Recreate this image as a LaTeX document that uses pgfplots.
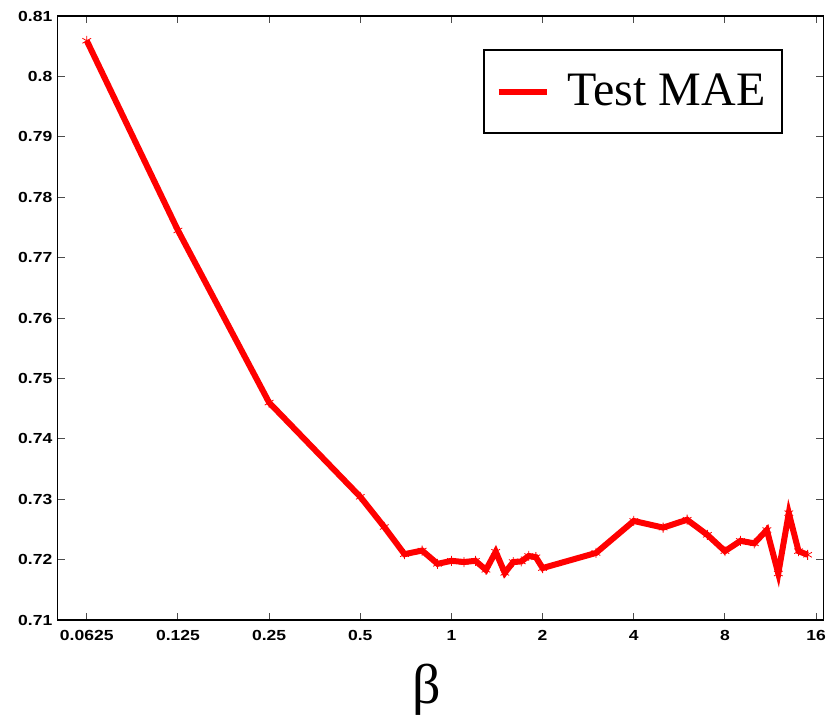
\documentclass[border=0pt]{standalone}
\usepackage{fontspec}
\usepackage{pgfplots}
\pgfplotsset{compat=1.18}
\setmainfont{Liberation Serif}
\newfontfamily\tickfont[FakeStretch=1.2]{Liberation Sans}
\definecolor{pure red}{RGB}{255,0,0}
\begin{document}
\begin{tikzpicture}
\begin{axis}[
  scale only axis,
  width=382.8pt, height=302pt,
  xmode=log, log basis x=2,
  xmin=0.0501, xmax=16.9,
  ymin=0.71, ymax=0.81,
  xtick={0.0625,0.125,0.25,0.5,1,2,4,8,16},
  xticklabels={0.0625,0.125,0.25,0.5,1,2,4,8,16},
  ytick={0.71,0.72,0.73,0.74,0.75,0.76,0.77,0.78,0.79,0.8,0.81},
  yticklabels={0.71,0.72,0.73,0.74,0.75,0.76,0.77,0.78,0.79,0.8,0.81},
  minor tick num=0,
  tick align=inside,
  major tick length=3.5pt,
  tick style={black!70, line width=0.5pt},
  axis line style={black, line width=0.8pt},
  ticklabel style={font=\tickfont\bfseries\fontsize{7.3}{8}\selectfont, inner sep=0pt},
  xticklabel style={yshift=-5pt},
  yticklabel style={xshift=-2.5pt},
  xlabel={\fontsize{28}{30}\selectfont β},
  xlabel style={at={(rel axis cs:0.482,0)}, anchor=base, yshift=-41.5pt, inner sep=0pt},
  legend style={
    at={(rel axis cs:0.9467,0.945)}, anchor=north east,
    draw=black, line width=1pt,
    inner xsep=6pt, inner ysep=10pt,
    font=\fontsize{24}{26}\selectfont,
    nodes={inner sep=2pt},
  },
  legend image code/.code={\draw[pure red, line width=3pt] (0pt,0pt) -- (24pt,0pt);},
]
\addplot[pure red, line width=3pt, mark=asterisk, mark size=2.5pt,
  mark options={line width=0.4pt, solid}] coordinates {
(0.0625,0.8059)
(0.125,0.7745)
(0.25,0.7460)
(0.5,0.7304)
(0.6,0.7254)
(0.7,0.7209)
(0.8,0.7215)
(0.9,0.7193)
(1.0,0.7198)
(1.1,0.7196)
(1.2,0.7198)
(1.3,0.7183)
(1.4,0.7213)
(1.5,0.7178)
(1.6,0.7196)
(1.7,0.7197)
(1.8,0.7206)
(1.9,0.7204)
(2.0,0.7186)
(3,0.7211)
(4,0.7264)
(5,0.7253)
(6,0.7266)
(7,0.7241)
(8,0.7214)
(9,0.7231)
(10,0.7227)
(11,0.7249)
(12,0.7177)
(13,0.7277)
(14,0.7214)
(15,0.7208)
};
\addlegendentry{\hspace{7pt}Test MAE\hspace{3pt}}
\end{axis}
\pgfresetboundingbox
\path ([shift={(-28.85pt,-49pt)}]current axis.south west) rectangle ([shift={(7.35pt,8pt)}]current axis.north east);
\end{tikzpicture}
\end{document}
